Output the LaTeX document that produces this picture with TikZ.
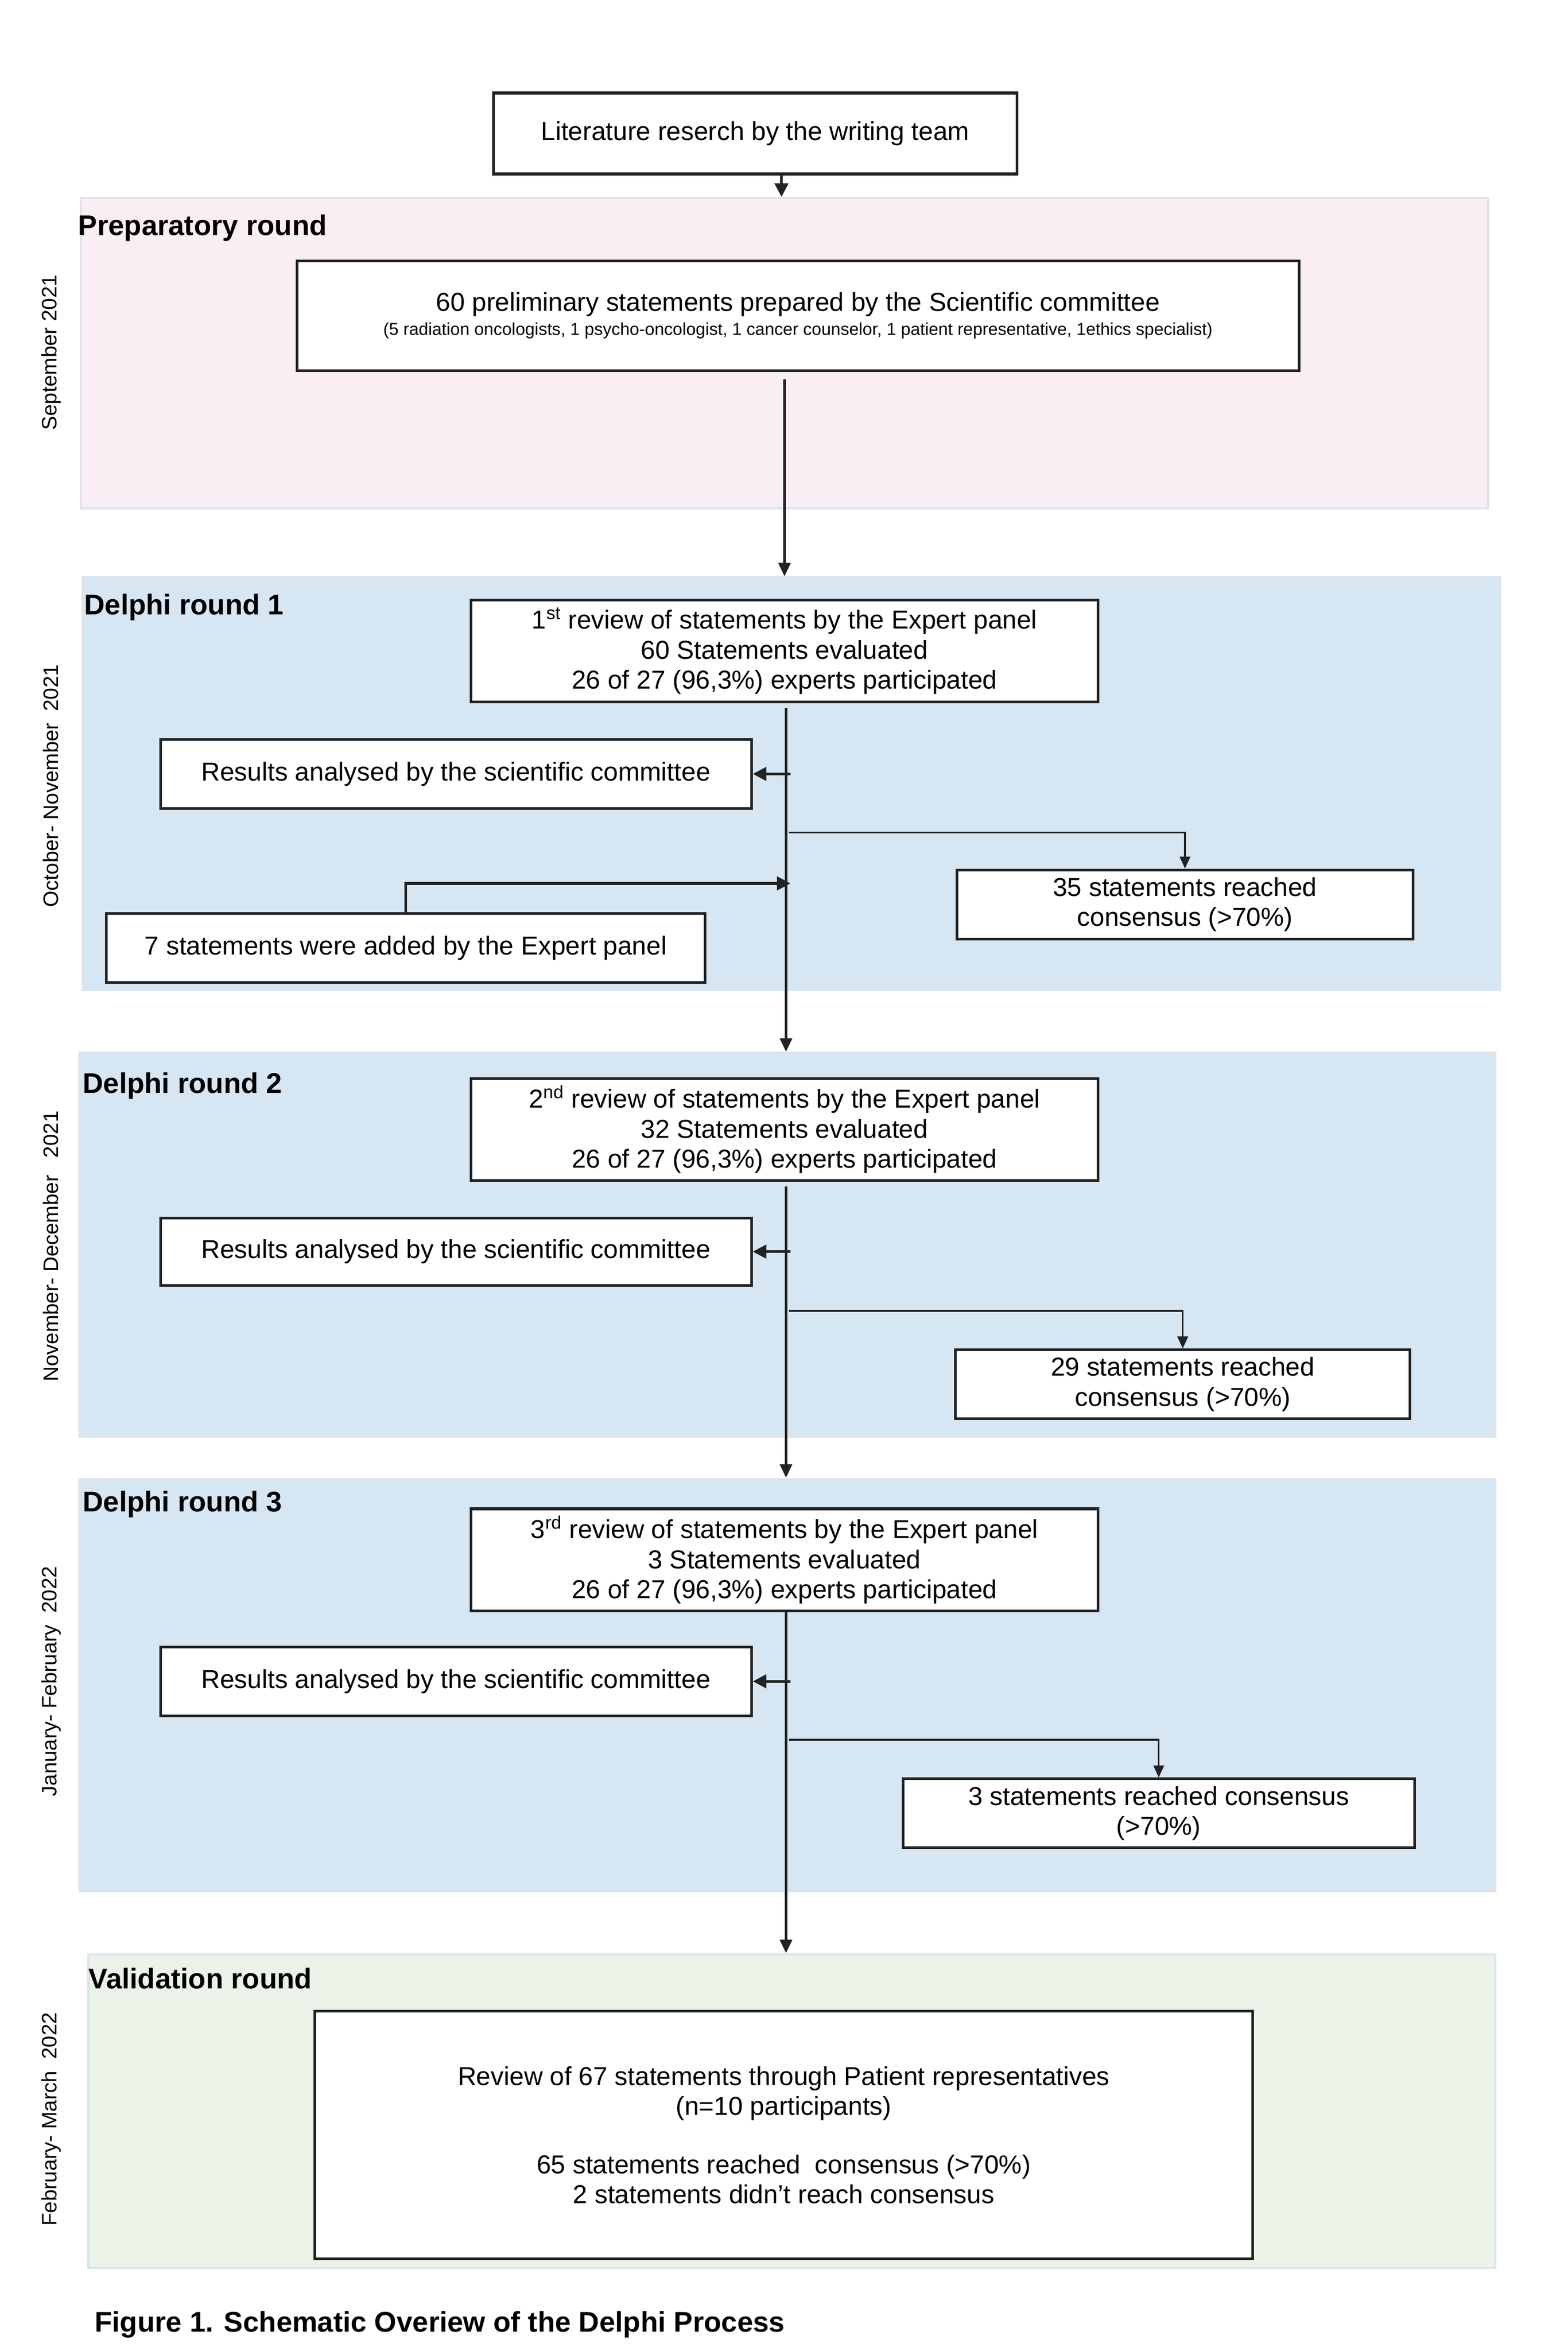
\documentclass[tikz,border=0pt]{standalone}
\usepackage{fontspec}
\setmainfont{Liberation Sans}
\usetikzlibrary{arrows.meta}
\definecolor{ink}{HTML}{222222}
\definecolor{prepfill}{HTML}{F8EEF4}
\definecolor{delfill}{HTML}{D7E6F3}
\definecolor{valfill}{HTML}{EBF3E8}
\definecolor{panelline}{HTML}{DDE4EC}
\begin{document}
\begin{tikzpicture}[x=1pt,y=-1pt,
 panel/.style={draw=panelline,line width=1.5pt,inner sep=0pt,rectangle},
 wbox/.style={draw=ink,fill=white,line width=1.8pt,inner sep=0pt,align=center,font=\fontsize{17.3}{20}\selectfont},
 roundtitle/.style={anchor=west,inner sep=0pt,font=\bfseries\fontsize{19}{22}\selectfont},
 datelabel/.style={rotate=90,inner sep=0pt,font=\fontsize{14}{16}\selectfont},
 conn/.style={draw=ink,line width=1.8pt,-{Triangle[length=9pt,width=9pt]}},
 thinconn/.style={draw=ink,line width=1.2pt,-{Triangle[length=8pt,width=7pt]}},
 spine/.style={draw=ink,line width=1.8pt,-{Triangle[length=9pt,width=8pt]}}
]
\useasboundingbox (0,0) rectangle (1045,1567.5);

% panels
\node[panel,fill=prepfill,minimum width=938pt,minimum height=207pt] (prep) at (523,235.5) {};
\node[panel,fill=delfill,minimum width=945pt,minimum height=275pt] (d1) at (527.5,522.5) {};
\node[panel,fill=delfill,minimum width=944pt,minimum height=256pt] (d2) at (525,830) {};
\node[panel,fill=delfill,minimum width=944pt,minimum height=275pt] (d3) at (525,1123.5) {};
\node[panel,fill=valfill,minimum width=938pt,minimum height=209pt] (val) at (528,1407.5) {};

% titles
\node[roundtitle] (tprep) at (52,152) {Preparatory round};
\node[roundtitle] (td1) at (56,405) {Delphi round 1};
\node[roundtitle] (td2) at (55,724) {Delphi round 2};
\node[roundtitle] (td3) at (55,1003) {Delphi round 3};
\node[roundtitle] (tval) at (59,1319) {Validation round};

% date labels
\node[datelabel] (dprep) at (34,235) {September 2021};
\node[datelabel] (dd1) at (34,524) {October- November\ \ 2021};
\node[datelabel] (dd2) at (34,831) {November- December\ \ \ 2021};
\node[datelabel] (dd3) at (34,1121) {January- February\ \ 2022};
\node[datelabel] (dval) at (34,1413) {February- March\ \ 2022};

% boxes
\node[wbox,minimum width=349pt,minimum height=54pt] (lit) at (503.5,89) {Literature reserch by the writing team};
\node[wbox,minimum width=668pt,minimum height=73pt] (prelim) at (532,210.5)
 {60 preliminary statements prepared by the Scientific committee\\[-4pt]
 {\fontsize{11.5}{13}\selectfont (5 radiation oncologists, 1 psycho-oncologist, 1 cancer counselor, 1 patient representative, 1ethics specialist)}};

\node[wbox,minimum width=418pt,minimum height=68pt] (rev1) at (523,434)
 {1\textsuperscript{st} review of statements by the Expert panel\\60 Statements evaluated\\26 of 27 (96,3\%) experts participated};
\node[wbox,minimum width=394pt,minimum height=46pt] (res1) at (304,516) {Results analysed by the scientific committee};
\node[wbox,minimum width=304pt,minimum height=46pt] (cons1) at (790,603) {35 statements reached\\consensus (>70\%)};
\node[wbox,minimum width=399pt,minimum height=46pt] (add7) at (270.5,632) {7 statements were added by the Expert panel};

\node[wbox,minimum width=418pt,minimum height=68pt] (rev2) at (523,753)
 {2\textsuperscript{nd} review of statements by the Expert panel\\32 Statements evaluated\\26 of 27 (96,3\%) experts participated};
\node[wbox,minimum width=394pt,minimum height=45pt] (res2) at (304,834.5) {Results analysed by the scientific committee};
\node[wbox,minimum width=303pt,minimum height=46pt] (cons2) at (788.5,923) {29 statements reached\\consensus (>70\%)};

\node[wbox,minimum width=418pt,minimum height=68pt] (rev3) at (523,1040)
 {3\textsuperscript{rd} review of statements by the Expert panel\\3 Statements evaluated\\26 of 27 (96,3\%) experts participated};
\node[wbox,minimum width=394pt,minimum height=46pt] (res3) at (304,1121) {Results analysed by the scientific committee};
\node[wbox,minimum width=341pt,minimum height=46pt] (cons3) at (772.5,1209) {3 statements reached consensus\\(>70\%)};

\node[wbox,minimum width=625pt,minimum height=165pt] (valbox) at (522.5,1423.5)
 {Review of 67 statements through Patient representatives\\(n=10 participants)\\[19pt]
 65 statements reached\ \ consensus (>70\%)\\2 statements didn\symbol{39}t reach consensus};

% caption
\node[anchor=west,inner sep=0pt,font=\bfseries\fontsize{19}{22}\selectfont] (cap) at (63,1550) {Figure 1. Schematic Overiew of the Delphi Process};

% connectors
\coordinate (xl) at (521,0);
\draw[conn] (lit.south -| xl) -- (prep.north -| xl);
\coordinate (s1) at (523,253);
\draw[spine] (s1) -- (d1.north -| s1);
\coordinate (s2) at (524,472);
\draw[spine] (s2) -- (d2.north -| s2);
\coordinate (s3) at (524,791);
\draw[spine] (s3) -- (d3.north -| s3);
\coordinate (s4) at (524,1074);
\draw[spine] (s4) -- (val.north -| s4);

\coordinate (r1) at (527,516);
\draw[conn] (r1) -- (res1.east);
\coordinate (c1) at (526,555);
\draw[thinconn] (c1) -| (cons1.north);
\coordinate (j1) at (527,589);
\draw[conn] (add7.north) |- (j1);

\coordinate (r2) at (527,834.5);
\draw[conn] (r2) -- (res2.east);
\coordinate (c2) at (526,874);
\draw[thinconn] (c2) -| (cons2.north);

\coordinate (r3) at (527,1121);
\draw[conn] (r3) -- (res3.east);
\coordinate (c3) at (526,1160);
\draw[thinconn] (c3) -| (cons3.north);
\end{tikzpicture}
\end{document}
